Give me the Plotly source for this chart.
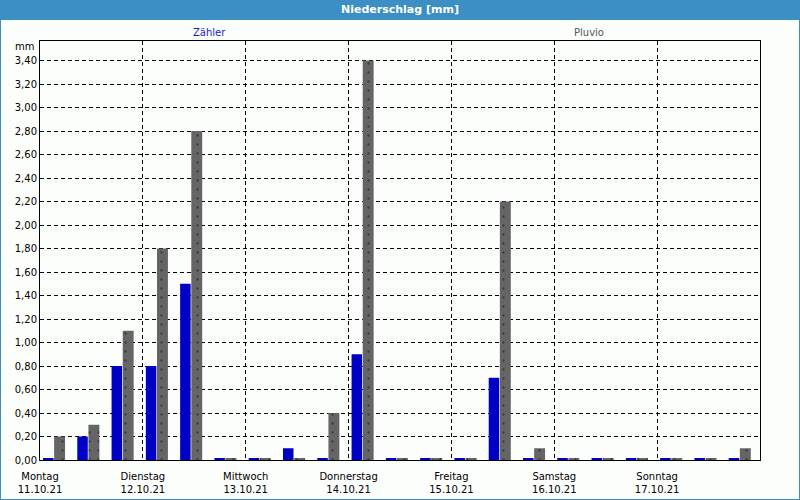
import plotly.graph_objects as go

# 8-hour periods, 11.10.21 00:00 to 18.10.21 00:00 (21 periods)
zaehler = [0.01, 0.20, 0.80, 0.80, 1.50, 0.01, 0.01, 0.10, 0.01, 0.90, 0.01,
           0.01, 0.01, 0.70, 0.01, 0.01, 0.01, 0.01, 0.01, 0.01, 0.01]
pluvio = [0.20, 0.30, 1.10, 1.80, 2.80, 0.01, 0.01, 0.01, 0.40, 3.40, 0.01,
          0.01, 0.01, 2.20, 0.10, 0.01, 0.01, 0.01, 0.01, 0.01, 0.10]
day_names = ["Montag", "Dienstag", "Mittwoch", "Donnerstag", "Freitag", "Samstag", "Sonntag"]
day_dates = ["11.10.21", "12.10.21", "13.10.21", "14.10.21", "15.10.21", "16.10.21", "17.10.21"]
period_hours = 8

x_start = [i * period_hours for i in range(len(zaehler))]
tick_vals = [d * 24 for d in range(len(day_names))]
tick_text = [f"{n}<br>{d}" for n, d in zip(day_names, day_dates)]

FONT = "DejaVu Sans"
BLUE_FRAME = "#3c8fc3"

fig = go.Figure()
fig.add_trace(go.Bar(x=x_start, y=zaehler, name="Zähler", offset=0.7, width=2.45,
                     marker=dict(color="#0000c4", line=dict(width=0)), showlegend=False))
fig.add_trace(go.Bar(x=x_start, y=pluvio, name="Pluvio", offset=3.3, width=2.55,
                     marker=dict(color="#656565", line=dict(width=0),
                                 pattern=dict(shape=".", fgcolor="#3a3a3a", bgcolor="#656565",
                                              size=9, solidity=0.05, fillmode="replace")),
                     showlegend=False))

W, H = 800, 500
L, R, T, B = 40, 40, 41, 40
pw, ph = W - L - R, H - T - B

def px(xp):
    return (xp - L) / pw

def py(yp):
    return 1 - (yp - T) / ph

fig.update_layout(
    width=W, height=H,
    margin=dict(l=L, r=R, t=T, b=B, pad=0, autoexpand=False),
    paper_bgcolor="#fcfefc", plot_bgcolor="#fcfefc",
    barmode="overlay",
    separators=",.",
    font=dict(family=FONT, size=10, color="#000000"),
    xaxis=dict(range=[0, 168], tickvals=tick_vals, ticktext=tick_text,
               showgrid=True, gridcolor="#000000", griddash="4px,3px", gridwidth=1,
               showline=True, linecolor="#000000", linewidth=1, mirror=True,
               zeroline=False, ticks="", ticklabelstandoff=7, automargin=False,
               tickfont=dict(family=FONT, size=10, color="#000000")),
    yaxis=dict(range=[0, 3.567], dtick=0.2, tick0=0, tickformat=".2f",
               showgrid=True, gridcolor="#000000", griddash="4px,3px", gridwidth=1,
               showline=True, linecolor="#000000", linewidth=1, mirror=True,
               zeroline=False, ticks="", automargin=False,
               tickfont=dict(family=FONT, size=10, color="#000000")),
    shapes=[
        dict(type="rect", xref="paper", yref="paper", x0=px(0), x1=px(W), y0=py(0), y1=py(20),
             fillcolor=BLUE_FRAME, line=dict(width=0), layer="above"),
        dict(type="rect", xref="paper", yref="paper", x0=px(0), x1=px(W), y0=py(H), y1=py(0),
             fillcolor="rgba(0,0,0,0)", line=dict(width=2, color=BLUE_FRAME), layer="above"),
    ],
    annotations=[
        dict(text="<b>Niederschlag [mm]</b>", xref="paper", yref="paper", x=px(400), y=py(10),
             showarrow=False, font=dict(family=FONT, size=11, color="#ffffff"),
             xanchor="center", yanchor="middle"),
        dict(text="Zähler", xref="paper", yref="paper", x=px(209), y=py(32),
             showarrow=False, font=dict(family=FONT, size=10, color="#1a1ad0"),
             xanchor="center", yanchor="middle"),
        dict(text="Pluvio", xref="paper", yref="paper", x=px(589), y=py(32),
             showarrow=False, font=dict(family=FONT, size=10, color="#555555"),
             xanchor="center", yanchor="middle"),
        dict(text="mm", xref="paper", yref="paper", x=px(36), y=py(47),
             showarrow=False, font=dict(family=FONT, size=10, color="#000000"),
             xanchor="right", yanchor="middle"),
    ],
)

fig.write_html("out.html")
